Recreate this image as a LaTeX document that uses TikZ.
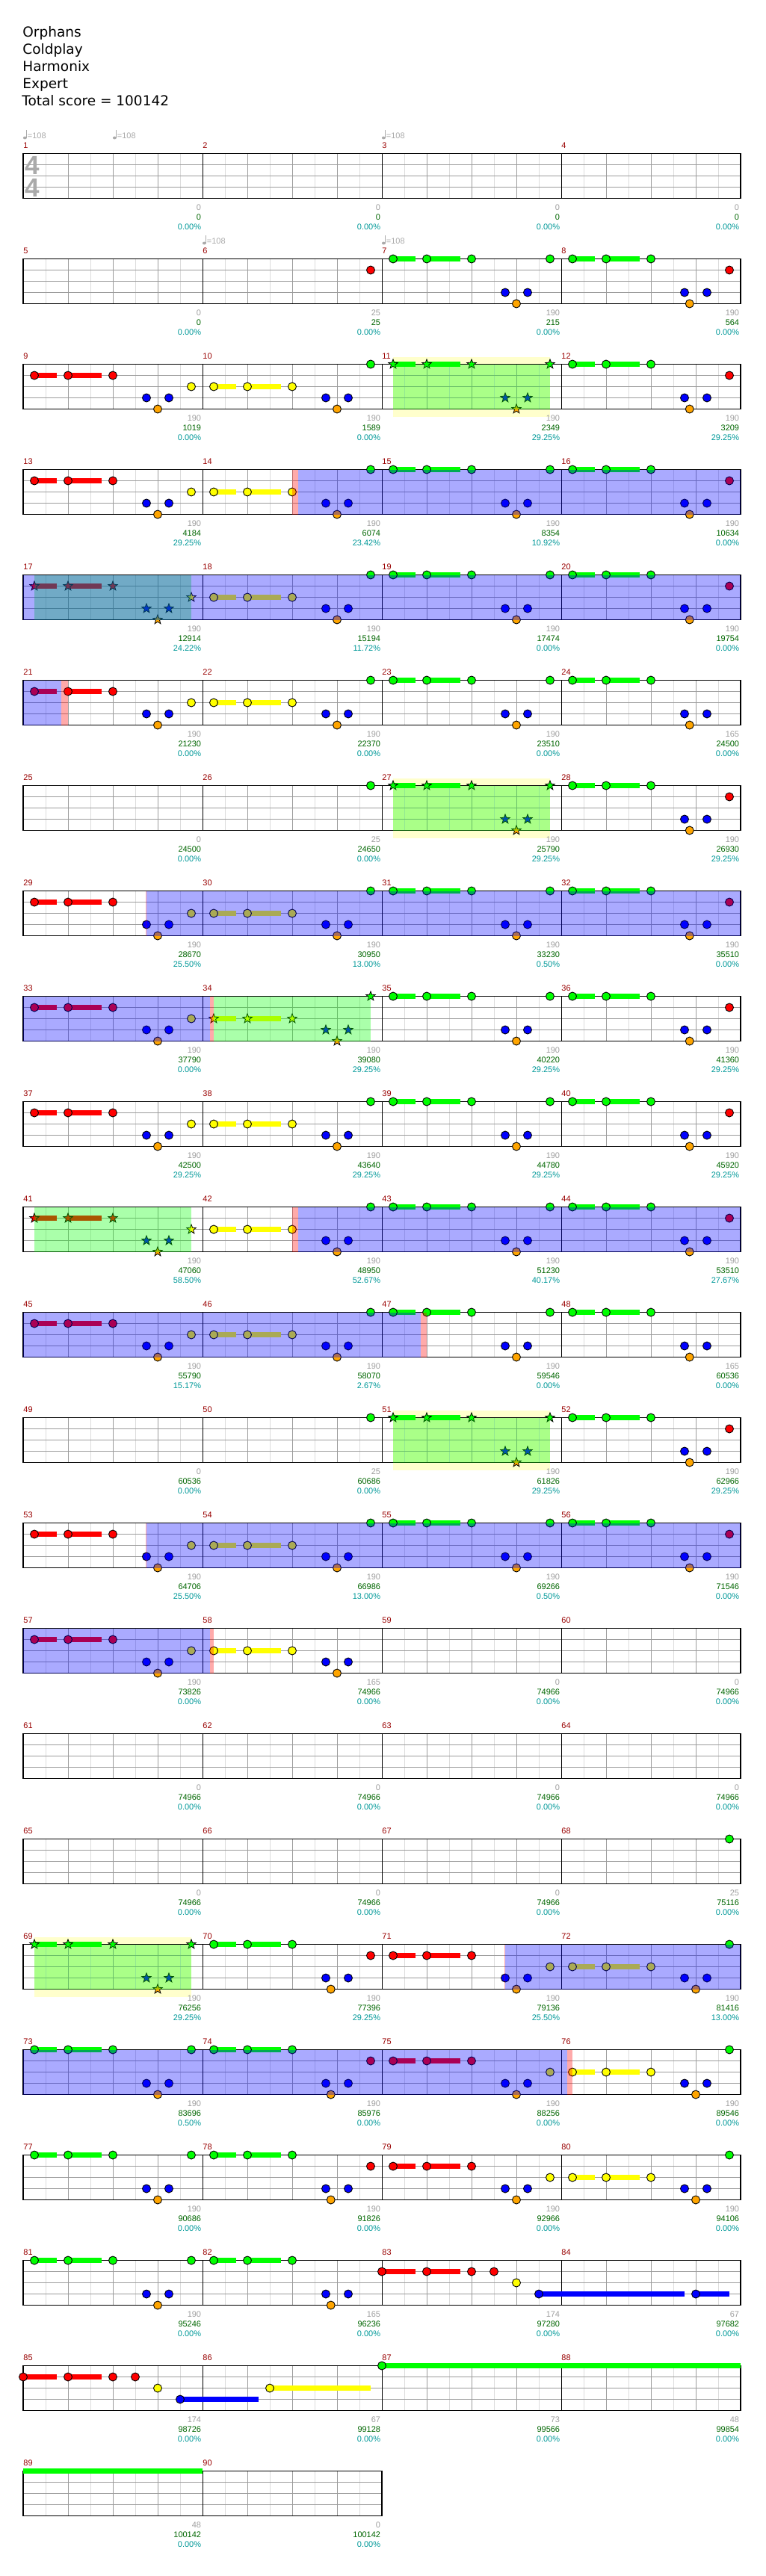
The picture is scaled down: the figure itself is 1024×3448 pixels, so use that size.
\documentclass[tikz,border=0pt]{standalone}
\usepackage{fontspec}
\setmainfont{DejaVu Sans}
\newfontfamily\numf{Liberation Sans}
\usetikzlibrary{shapes.geometric}
\definecolor{cG}{HTML}{00FF00}
\definecolor{cR}{HTML}{FF0000}
\definecolor{cY}{HTML}{FFFF00}
\definecolor{cB}{HTML}{0000FF}
\definecolor{cO}{HTML}{FFA500}
\definecolor{gridl}{HTML}{DCDCDC}
\definecolor{gridd}{HTML}{9C9C9C}
\definecolor{mred}{HTML}{990000}
\definecolor{tgray}{HTML}{A0A0A0}
\definecolor{tgreen}{HTML}{006600}
\definecolor{tcyan}{HTML}{009999}
\definecolor{yband}{HTML}{FFFFCC}
\definecolor{tsgray}{HTML}{AAAAAA}
% notes
\newcommand\Nt[4]{\draw[notec,fill=#4] ({#1+15*#2},{15*#3}) circle[radius=2.75pt];}
\newcommand\Sn[4]{\node[starnote,fill=#4] at ({#1+15*#2},{15*#3}) {};}
\newcommand\Sus[5]{\fill[#5] ({#1+15*#2},{15*#4-3.25}) rectangle ({#1+15*#3},{15*#4+3.25});}
\newcommand\PatA[2]{\Sus{#1}{1}{3}{1}{cR}\Sus{#1}{4}{7}{1}{cR}#2{#1}{1}{1}{cR}#2{#1}{4}{1}{cR}#2{#1}{8}{1}{cR}#2{#1}{11}{3}{cB}#2{#1}{12}{4}{cO}#2{#1}{13}{3}{cB}#2{#1}{15}{2}{cY}}
\newcommand\PatAB[2]{\Sus{#1}{1}{3}{2}{cY}\Sus{#1}{4}{7}{2}{cY}#2{#1}{1}{2}{cY}#2{#1}{4}{2}{cY}#2{#1}{8}{2}{cY}#2{#1}{11}{3}{cB}#2{#1}{12}{4}{cO}#2{#1}{13}{3}{cB}}
\newcommand\PatB[3]{\Sus{#1}{1}{3}{0}{cG}\Sus{#1}{4}{7}{0}{cG}#2{#1}{1}{0}{cG}#2{#1}{4}{0}{cG}#2{#1}{8}{0}{cG}#2{#1}{11}{3}{cB}#2{#1}{#3}{4}{cO}#2{#1}{13}{3}{cB}}
\newcommand\MA[1]{\PatA{#1}{\Nt}}
\newcommand\MAs[1]{\PatA{#1}{\Sn}}
\newcommand\MAB[1]{\PatAB{#1}{\Nt}\Nt{#1}{15}{0}{cG}}
\newcommand\MABx[1]{\PatAB{#1}{\Nt}}
\newcommand\MABs[1]{\PatAB{#1}{\Sn}\Sn{#1}{15}{0}{cG}}
\newcommand\MBA[1]{\PatB{#1}{\Nt}{12}\Nt{#1}{15}{0}{cG}}
\newcommand\MBAs[1]{\PatB{#1}{\Sn}{12}\Sn{#1}{15}{0}{cG}}
\newcommand\MBB[1]{\PatB{#1}{\Nt}{11.45}\Nt{#1}{15}{1}{cR}}
\newcommand\MBBx[1]{\PatB{#1}{\Nt}{11.45}}
% overlays
\newcommand\Ov[3]{\fill[#1,opacity=0.333] (#2,0) rectangle (#3,60);}
\newcommand\Yb[2]{\fill[yband] (#1,-10) rectangle (#2,70.5);}
% staff
\newcommand\Staff[1]{%
 \pgfmathsetmacro\Xe{31+240*#1}%
 \foreach \m in {1,...,#1}{%
   \pgfmathsetmacro\Xo{31+240*(\m-1)}%
   \foreach \j in {1,3,5,7}{\draw[gl] ({\Xo+30*\j},0) -- ({\Xo+30*\j},60);}%
   \foreach \j in {2,4,6}{\draw[gd] ({\Xo+30*\j},0) -- ({\Xo+30*\j},60);}%
 }%
 \foreach \l in {15,30,45}{\draw[gd] (31,\l) -- (\Xe,\l);}%
 \foreach \m in {2,...,#1}{\draw[barl] ({31+240*(\m-1)},0) -- ({31+240*(\m-1)},60);}%
 \draw[outl] (31,0) rectangle (\Xe,60);}
\newcommand\Lb[2]{\node[mlab] at (#1,-7.3) {#2};}
\newcommand\Lbs[4]{\Lb{31}{#1}\Lb{271}{#2}\Lb{511}{#3}\Lb{751}{#4}}
\newcommand\Sc[4]{%
 \node[sgray] at ({31+240*#1-1.5},75.7) {#2};%
 \node[sgreen] at ({31+240*#1-1.5},89) {#3};%
 \node[scyan] at ({31+240*#1-1.5},101.7) {#4\%};}
\newcommand\Tempo[1]{%
 \fill[tsgray] ({#1+2.4},-21) ellipse[x radius=1.25pt,y radius=0.95pt];%
 \draw[tsgray,line width=0.5pt] ({#1+4.3},-21) -- ({#1+4.3},-32);%
 \node[tmp] at ({#1+5.5},-20.4) {=108};}
\begin{document}
\begin{tikzpicture}[x=0.5pt,y=-0.5pt,
 gl/.style={draw=gridl,line width=0.5pt},
 gd/.style={draw=gridd,line width=0.5pt},
 barl/.style={draw=black,line width=0.5pt},
 outl/.style={draw=black,line width=0.65pt},
 notec/.style={draw=black,line width=0.45pt},
 starnote/.style={star,star points=5,star point ratio=2.4,minimum size=6.6pt,inner sep=0pt,draw=black,line width=0.4pt},
 mlab/.style={anchor=base west,inner sep=0pt,text=mred,font=\numf\fontsize{5.5pt}{6pt}\selectfont},
 sgray/.style={anchor=base east,inner sep=0pt,text=tgray,font=\numf\fontsize{5.5pt}{6pt}\selectfont},
 sgreen/.style={anchor=base east,inner sep=0pt,text=tgreen,font=\numf\fontsize{5.5pt}{6pt}\selectfont},
 scyan/.style={anchor=base east,inner sep=0pt,text=tcyan,font=\numf\fontsize{5.5pt}{6pt}\selectfont},
 tmp/.style={anchor=base west,inner sep=0pt,text=tsgray,font=\numf\fontsize{5.5pt}{6pt}\selectfont},
 tsig/.style={anchor=base west,inner sep=0pt,text=tsgray,font=\numf\bfseries\fontsize{17.5pt}{18pt}\selectfont},
 ttl/.style={anchor=base west,inner sep=0pt,text=black,font=\fontsize{9.25pt}{11pt}\selectfont}]
\useasboundingbox (0,0) rectangle (1024,3448);
\fill[white] (0,0) rectangle (1024,3448);
% title
\node[ttl] (t1) at (30,49.3) {Orphans};
\node[ttl] (t2) at (30,72.3) {Coldplay};
\node[ttl] (t3) at (30,95.2) {Harmonix};
\node[ttl] (t4) at (30,118.2) {Expert};
\node[ttl] (t5) at (29,141.2) {Total score = 100142};
% row 1
\begin{scope}[shift={(0,205.5)}]
\Staff{4}\Lbs{1}{2}{3}{4}
\node[tsig] at (33.5,27.8) {4};\node[tsig] at (33.5,57.8) {4};
\Tempo{31}\Tempo{151}\Tempo{511}
\Sc{1}{0}{0}{0.00}\Sc{2}{0}{0}{0.00}\Sc{3}{0}{0}{0.00}\Sc{4}{0}{0}{0.00}
\end{scope}
% row 2
\begin{scope}[shift={(0,346.5)}]
\Staff{4}\Lbs{5}{6}{7}{8}\Tempo{271}\Tempo{511}
\Nt{271}{15}{1}{cR}\MBA{511}\MBB{751}
\Sc{1}{0}{0}{0.00}\Sc{2}{25}{25}{0.00}\Sc{3}{190}{215}{0.00}\Sc{4}{190}{564}{0.00}
\end{scope}
% row 3
\begin{scope}[shift={(0,487.5)}]
\Yb{526}{735.5}\Staff{4}\Lbs{9}{10}{11}{12}
\MA{31}\MAB{271}\MBAs{511}\MBB{751}
\Ov{cG}{526}{735.5}
\Sc{1}{190}{1019}{0.00}\Sc{2}{190}{1589}{0.00}\Sc{3}{190}{2349}{29.25}\Sc{4}{190}{3209}{29.25}
\end{scope}
% row 4
\begin{scope}[shift={(0,628.5)}]
\Staff{4}\Lbs{13}{14}{15}{16}
\MA{31}\MAB{271}\MBA{511}\MBB{751}
\Ov{cR}{391}{399}\Ov{cB}{399}{991}
\Sc{1}{190}{4184}{29.25}\Sc{2}{190}{6074}{23.42}\Sc{3}{190}{8354}{10.92}\Sc{4}{190}{10634}{0.00}
\end{scope}
% row 5
\begin{scope}[shift={(0,769.5)}]
\Staff{4}\Lbs{17}{18}{19}{20}
\MAs{31}\MAB{271}\MBA{511}\MBB{751}
\Ov{cG}{46}{256}\Ov{cB}{31}{991}
\Sc{1}{190}{12914}{24.22}\Sc{2}{190}{15194}{11.72}\Sc{3}{190}{17474}{0.00}\Sc{4}{190}{19754}{0.00}
\end{scope}
% row 6
\begin{scope}[shift={(0,910.5)}]
\Staff{4}\Lbs{21}{22}{23}{24}
\MA{31}\MAB{271}\MBA{511}\MBBx{751}
\Ov{cB}{31}{81.6}\Ov{cR}{81.6}{91.4}
\Sc{1}{190}{21230}{0.00}\Sc{2}{190}{22370}{0.00}\Sc{3}{190}{23510}{0.00}\Sc{4}{165}{24500}{0.00}
\end{scope}
% row 7
\begin{scope}[shift={(0,1051.5)}]
\Yb{526}{735.5}\Staff{4}\Lbs{25}{26}{27}{28}
\Nt{271}{15}{0}{cG}\MBAs{511}\MBB{751}
\Ov{cG}{526}{735.5}
\Sc{1}{0}{24500}{0.00}\Sc{2}{25}{24650}{0.00}\Sc{3}{190}{25790}{29.25}\Sc{4}{190}{26930}{29.25}
\end{scope}
% row 8
\begin{scope}[shift={(0,1192.5)}]
\Staff{4}\Lbs{29}{30}{31}{32}
\MA{31}\MAB{271}\MBA{511}\MBB{751}
\Ov{cR}{194.8}{196.3}\Ov{cB}{196.3}{991}
\Sc{1}{190}{28670}{25.50}\Sc{2}{190}{30950}{13.00}\Sc{3}{190}{33230}{0.50}\Sc{4}{190}{35510}{0.00}
\end{scope}
% row 9
\begin{scope}[shift={(0,1333.5)}]
\Staff{4}\Lbs{33}{34}{35}{36}
\MA{31}\MABs{271}\MBA{511}\MBB{751}
\Ov{cB}{31}{280.7}\Ov{cR}{280.7}{285.5}\Ov{cG}{285.5}{495.5}
\Sc{1}{190}{37790}{0.00}\Sc{2}{190}{39080}{29.25}\Sc{3}{190}{40220}{29.25}\Sc{4}{190}{41360}{29.25}
\end{scope}
% row 10
\begin{scope}[shift={(0,1474.5)}]
\Staff{4}\Lbs{37}{38}{39}{40}
\MA{31}\MAB{271}\MBA{511}\MBB{751}
\Sc{1}{190}{42500}{29.25}\Sc{2}{190}{43640}{29.25}\Sc{3}{190}{44780}{29.25}\Sc{4}{190}{45920}{29.25}
\end{scope}
% row 11
\begin{scope}[shift={(0,1615.5)}]
\Staff{4}\Lbs{41}{42}{43}{44}
\MAs{31}\MAB{271}\MBA{511}\MBB{751}
\Ov{cG}{46}{256}\Ov{cR}{391}{398.5}\Ov{cB}{398.5}{991}
\Sc{1}{190}{47060}{58.50}\Sc{2}{190}{48950}{52.67}\Sc{3}{190}{51230}{40.17}\Sc{4}{190}{53510}{27.67}
\end{scope}
% row 12
\begin{scope}[shift={(0,1756.5)}]
\Staff{4}\Lbs{45}{46}{47}{48}
\MA{31}\MAB{271}\MBA{511}\MBBx{751}
\Ov{cB}{31}{562.7}\Ov{cR}{562.7}{571.2}
\Sc{1}{190}{55790}{15.17}\Sc{2}{190}{58070}{2.67}\Sc{3}{190}{59546}{0.00}\Sc{4}{165}{60536}{0.00}
\end{scope}
% row 13
\begin{scope}[shift={(0,1897.5)}]
\Yb{526}{735.5}\Staff{4}\Lbs{49}{50}{51}{52}
\Nt{271}{15}{0}{cG}\MBAs{511}\MBB{751}
\Ov{cG}{526}{735.5}
\Sc{1}{0}{60536}{0.00}\Sc{2}{25}{60686}{0.00}\Sc{3}{190}{61826}{29.25}\Sc{4}{190}{62966}{29.25}
\end{scope}
% row 14
\begin{scope}[shift={(0,2038.5)}]
\Staff{4}\Lbs{53}{54}{55}{56}
\MA{31}\MAB{271}\MBA{511}\MBB{751}
\Ov{cR}{194.8}{196.3}\Ov{cB}{196.3}{991}
\Sc{1}{190}{64706}{25.50}\Sc{2}{190}{66986}{13.00}\Sc{3}{190}{69266}{0.50}\Sc{4}{190}{71546}{0.00}
\end{scope}
% row 15
\begin{scope}[shift={(0,2179.5)}]
\Staff{4}\Lbs{57}{58}{59}{60}
\MA{31}\MABx{271}
\Ov{cB}{31}{280.7}\Ov{cR}{280.7}{285.5}
\Sc{1}{190}{73826}{0.00}\Sc{2}{165}{74966}{0.00}\Sc{3}{0}{74966}{0.00}\Sc{4}{0}{74966}{0.00}
\end{scope}
% row 16
\begin{scope}[shift={(0,2320.5)}]
\Staff{4}\Lbs{61}{62}{63}{64}
\Sc{1}{0}{74966}{0.00}\Sc{2}{0}{74966}{0.00}\Sc{3}{0}{74966}{0.00}\Sc{4}{0}{74966}{0.00}
\end{scope}
% row 17
\begin{scope}[shift={(0,2461.5)}]
\Staff{4}\Lbs{65}{66}{67}{68}
\Nt{751}{15}{0}{cG}
\Sc{1}{0}{74966}{0.00}\Sc{2}{0}{74966}{0.00}\Sc{3}{0}{74966}{0.00}\Sc{4}{25}{75116}{0.00}
\end{scope}
% row 18
\begin{scope}[shift={(0,2602.5)}]
\Yb{46}{256}\Staff{4}\Lbs{69}{70}{71}{72}
\MBAs{31}\MBB{271}\MA{511}\MAB{751}
\Ov{cG}{46}{256}\Ov{cR}{674.8}{676.3}\Ov{cB}{676.3}{991}
\Sc{1}{190}{76256}{29.25}\Sc{2}{190}{77396}{29.25}\Sc{3}{190}{79136}{25.50}\Sc{4}{190}{81416}{13.00}
\end{scope}
% row 19
\begin{scope}[shift={(0,2743.5)}]
\Staff{4}\Lbs{73}{74}{75}{76}
\MBA{31}\MBB{271}\MA{511}\MAB{751}
\Ov{cB}{31}{759.1}\Ov{cR}{759.1}{765.6}
\Sc{1}{190}{83696}{0.50}\Sc{2}{190}{85976}{0.00}\Sc{3}{190}{88256}{0.00}\Sc{4}{190}{89546}{0.00}
\end{scope}
% row 20
\begin{scope}[shift={(0,2884.5)}]
\Staff{4}\Lbs{77}{78}{79}{80}
\MBA{31}\MBB{271}\MA{511}\MAB{751}
\Sc{1}{190}{90686}{0.00}\Sc{2}{190}{91826}{0.00}\Sc{3}{190}{92966}{0.00}\Sc{4}{190}{94106}{0.00}
\end{scope}
% row 21
\begin{scope}[shift={(0,3025.5)}]
\Staff{4}\Lbs{81}{82}{83}{84}
\MBA{31}\MBBx{271}
\Sus{511}{0}{3}{1}{cR}\Sus{511}{4}{7}{1}{cR}\Sus{511}{14}{27}{3}{cB}\Sus{511}{28}{31}{3}{cB}
\Nt{511}{0}{1}{cR}\Nt{511}{4}{1}{cR}\Nt{511}{8}{1}{cR}\Nt{511}{10}{1}{cR}\Nt{511}{12}{2}{cY}\Nt{511}{14}{3}{cB}\Nt{511}{28}{3}{cB}
\Sc{1}{190}{95246}{0.00}\Sc{2}{165}{96236}{0.00}\Sc{3}{174}{97280}{0.00}\Sc{4}{67}{97682}{0.00}
\end{scope}
% row 22
\begin{scope}[shift={(0,3166.5)}]
\Staff{4}\Lbs{85}{86}{87}{88}
\Sus{31}{0}{3}{1}{cR}\Sus{31}{4}{7}{1}{cR}\Sus{31}{14}{21}{3}{cB}\Sus{31}{22}{31}{2}{cY}\Sus{31}{32}{64}{0}{cG}
\Nt{31}{0}{1}{cR}\Nt{31}{4}{1}{cR}\Nt{31}{8}{1}{cR}\Nt{31}{10}{1}{cR}\Nt{31}{12}{2}{cY}\Nt{31}{14}{3}{cB}\Nt{31}{22}{2}{cY}\Nt{31}{32}{0}{cG}
\Sc{1}{174}{98726}{0.00}\Sc{2}{67}{99128}{0.00}\Sc{3}{73}{99566}{0.00}\Sc{4}{48}{99854}{0.00}
\end{scope}
% row 23
\begin{scope}[shift={(0,3307.5)}]
\Staff{2}\Lb{31}{89}\Lb{271}{90}
\Sus{31}{0}{16}{0}{cG}
\Sc{1}{48}{100142}{0.00}\Sc{2}{0}{100142}{0.00}
\end{scope}
\end{tikzpicture}
\end{document}
